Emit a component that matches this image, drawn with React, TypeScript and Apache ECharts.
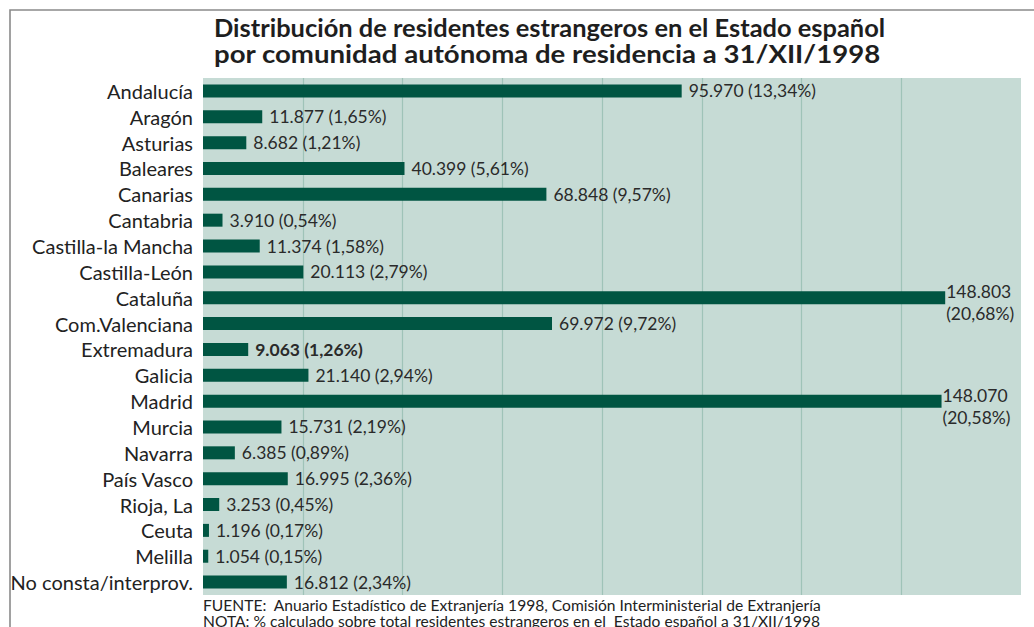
import React, { useEffect, useRef } from "react";
import * as echarts from "echarts";

const categories = [
  "Andalucía", "Aragón", "Asturias", "Baleares", "Canarias", "Cantabria",
  "Castilla-la Mancha", "Castilla-León", "Cataluña", "Com.Valenciana",
  "Extremadura", "Galicia", "Madrid", "Murcia", "Navarra", "País Vasco",
  "Rioja, La", "Ceuta", "Melilla", "No consta/interprov.",
];
const residents = [
  95970, 11877, 8682, 40399, 68848, 3910, 11374, 20113, 148803, 69972,
  9063, 21140, 148070, 15731, 6385, 16995, 3253, 1196, 1054, 16812,
];
const percents = [
  "13,34", "1,65", "1,21", "5,61", "9,57", "0,54", "1,58", "2,79", "20,68", "9,72",
  "1,26", "2,94", "20,58", "2,19", "0,89", "2,36", "0,45", "0,17", "0,15", "2,34",
];
const highlighted = ["Extremadura"];
const axisMax = 164000;
const axisStep = 20000;

const titleLines = [
  "Distribución de residentes estrangeros en el Estado español",
  "por comunidad autónoma de residencia a 31/XII/1998",
];
const footerLines = [
  "FUENTE:  Anuario Estadístico de Extranjería 1998, Comisión Interministerial de Extranjería",
  "NOTA: % calculado sobre total residentes estrangeros en el  Estado español a 31/XII/1998",
];

const fmt = (v: number) => String(v).replace(/\B(?=(\d{3})+(?!\d))/g, ".");

export default function App() {
  const ref = useRef<HTMLDivElement>(null);
  useEffect(() => {
    if (!ref.current) return;
    const chart = echarts.init(ref.current, undefined, { renderer: "svg" });
    const font = "Lato, 'Open Sans', sans-serif";
    const data = residents.map((v, i) => {
      const long = v > axisMax * 0.85;
      const bold = highlighted.includes(categories[i]);
      return {
        value: v,
        label: {
          formatter: long
            ? `${fmt(v)}\n(${percents[i]}%)`
            : `${fmt(v)} (${percents[i]}%)`,
          fontWeight: bold ? "bold" : "normal",
          distance: long ? 1 : 7,
          offset: long ? [0, 5] : [0, 0],
          lineHeight: long ? 22 : 20,
        },
      };
    });
    // split lines at 0, 20k ... 160k, 164k: only the inner ones from 20k to 140k are drawn
    const gridColors = [0, 1, 2, 3, 4, 5, 6, 7, 8, 9].map((k) =>
      k >= 1 && k <= 7 ? "#9fc3b8" : "rgba(0,0,0,0)"
    );
    chart.setOption({
      animation: false,
      grid: {
        left: 203, top: 78, width: 818, height: 517,
        show: true, backgroundColor: "#c6dbd5", borderWidth: 0,
      },
      xAxis: {
        type: "value", min: 0, max: axisMax, interval: axisStep,
        axisLabel: { show: false }, axisLine: { show: false }, axisTick: { show: false },
        splitLine: { show: true, lineStyle: { color: gridColors, width: 1.2 } },
      },
      yAxis: {
        type: "category", data: categories, inverse: true,
        axisLine: { show: false }, axisTick: { show: false },
        axisLabel: {
          color: "#222", fontSize: 20, fontFamily: font, margin: 10,
          interval: 0, hideOverlap: false,
        },
      },
      series: [{
        type: "bar", data, barWidth: 13,
        itemStyle: { color: "#005542" },
        label: {
          show: true, position: "right", color: "#2a2a2a",
          fontSize: 17.5, fontFamily: font,
        },
      }],
      graphic: [
        {
          type: "rect", shape: { x: 10, y: 10, width: 1100, height: 700 },
          style: { fill: "none", stroke: "#8a8a8a", lineWidth: 1.6 }, silent: true,
        },
        ...titleLines.map((t, i) => ({
          type: "text", x: 214, y: 28 + i * 26,
          scaleX: i === 0 ? 1.06 : 1.15,
          style: {
            text: t, fill: "#1e1e1e", font: `bold 24px ${font}`,
            textAlign: "left", textVerticalAlign: "middle",
          },
        })),
        ...footerLines.map((t, i) => ({
          type: "text", x: 203, y: 605 + i * 16,
          style: {
            text: t, fill: "#222", font: `15.6px ${font}`,
            textAlign: "left", textVerticalAlign: "middle",
          },
        })),
      ],
    });
    return () => chart.dispose();
  }, []);
  return (
    <div
      ref={ref}
      style={{ position: "absolute", left: 0, top: 0, width: 1034, height: 627, background: "#fff" }}
    />
  );
}
